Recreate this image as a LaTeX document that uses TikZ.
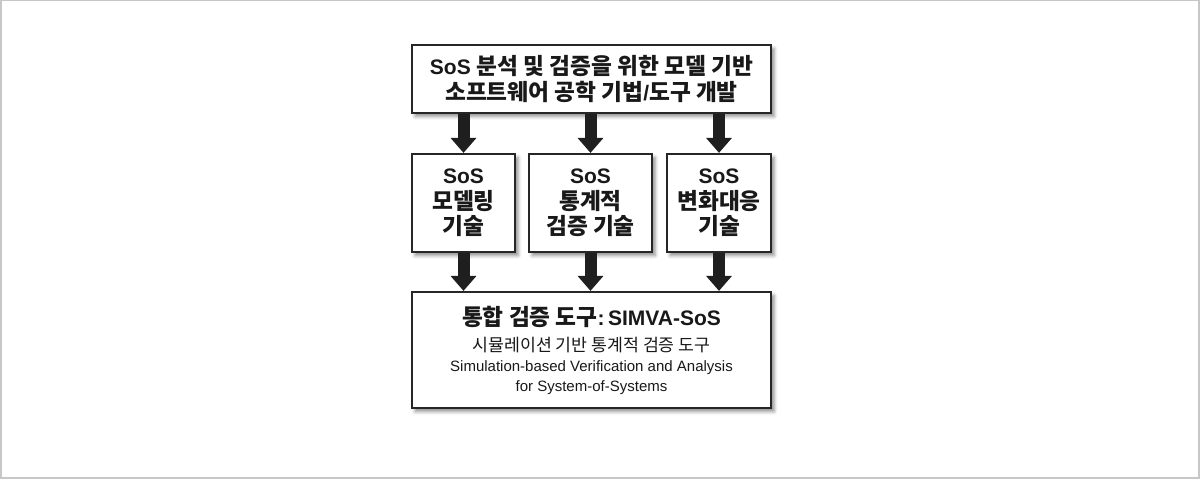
\documentclass[tikz,border=0pt]{standalone}
\usepackage{fontspec}
\setmainfont{Liberation Sans}
\newfontfamily\kr[Scale=1.08]{Noto Sans CJK KR}
\usetikzlibrary{arrows.meta,shadows.blur}
\newcommand\K[1]{{\kr #1}}
\begin{document}
\begin{tikzpicture}[x=1pt,y=-1pt,
  box/.style={draw=black!85,line width=2.2pt,fill=white,inner sep=0pt,align=center,text=black!90,
    blur shadow={shadow xshift=3pt,shadow yshift=-3.5pt,shadow blur radius=3.5pt,shadow opacity=45}},
  arr/.style={draw=black!88,line width=12pt,-{Triangle[width=25pt,length=15pt]}},
  boldtxt/.style={font=\fontsize{21}{26}\selectfont\bfseries}
]
\useasboundingbox (0,0) rectangle (1200,481);
\draw[line width=1.5pt,draw=black!22] (0.75,0.75) rectangle (1198.75,477.75);

\node[box,boldtxt,minimum width=359pt,minimum height=68pt] (top) at (591.5,79)
  {SoS \K{분석 및 검증을 위한 모델 기반}\\\K{소프트웨어 공학 기법}/\K{도구 개발}};
\node[box,boldtxt,font=\fontsize{21}{25.5}\selectfont\bfseries,minimum width=103pt,minimum height=98pt] (m1) at (463.5,203)
  {SoS\\\K{모델링}\\\K{기술}};
\node[box,boldtxt,font=\fontsize{21}{25.5}\selectfont\bfseries,minimum width=123pt,minimum height=98pt] (m2) at (590.5,203)
  {SoS\\\K{통계적}\\\K{검증 기술}};
\node[box,boldtxt,font=\fontsize{21}{25.5}\selectfont\bfseries,minimum width=104pt,minimum height=98pt] (m3) at (719,203)
  {SoS\\\K{변화대응}\\\K{기술}};
\node[box,font=\fontsize{15}{20}\selectfont,minimum width=359pt,minimum height=116pt] (bot) at (591.5,350)
  {{\fontsize{21}{20}\selectfont\bfseries\K{통합 검증 도구}:\,SIMVA-SoS}\\[6pt]
   {\fontsize{16}{20}\selectfont\K{시뮬레이션 기반 통계적 검증 도구}}\\
   Simulation-based Verification and Analysis\\
   for System-of-Systems};

\foreach \m in {m1,m2,m3}{
  \draw[arr] (\m.north |- top.south) -- (\m.north);
  \draw[arr] (\m.south) -- (\m.south |- bot.north);
}
\end{tikzpicture}
\end{document}
